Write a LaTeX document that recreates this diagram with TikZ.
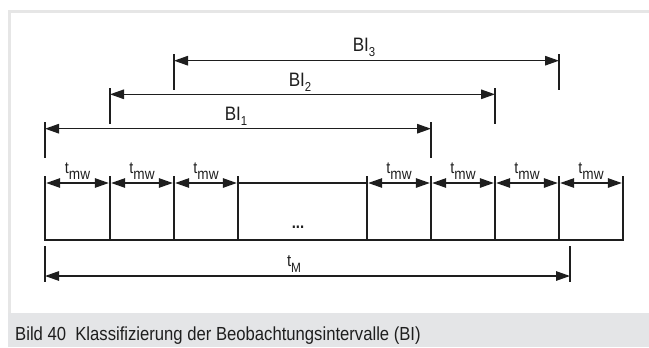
\documentclass[tikz,border=0pt]{standalone}
\usepackage{fontspec}
\setmainfont{Liberation Sans}[FakeStretch=0.88]
\usetikzlibrary{arrows.meta}
\definecolor{framegray}{HTML}{E6E6E6}
\definecolor{capgray}{HTML}{E4E5E7}
\definecolor{ink}{HTML}{1E1E1E}
\newcommand{\subl}[5]{{\fontsize{#3}{#3}\selectfont #1}\raisebox{-#5bp}{\fontsize{#4}{#4}\selectfont #2}}
\begin{document}
\begin{tikzpicture}[x=1bp,y=-1bp,
  tip/.tip={Triangle[length=14bp,width=9.5bp]},
  dimline/.style={draw=ink, line width=1.3bp, tip-tip},
  extline/.style={draw=ink, line width=1.1bp},
  cellline/.style={draw=ink, line width=2.5bp},
  thinline/.style={draw=ink, line width=1.3bp},
  lbl/.style={inner sep=0pt, anchor=base, text=ink}]
\useasboundingbox (0,0) rectangle (649,347);
% frame and caption band
\fill[capgray] (8,313.3) rectangle (649,347);
\fill[framegray] (8,10) rectangle (649,12.5);
\fill[framegray] (8,10) rectangle (10.5,313.3);
\node[inner sep=0pt, anchor=base west, text=ink] (cap) at (15,340.7)
  {\fontsize{19}{19}\selectfont Bild 40\ \ Klassifizierung der Beobachtungsintervalle (BI)};
% cell coordinates
\foreach \i/\x in {0/45,1/110,2/174,3/238,4/367,5/431,6/495,7/559,8/623}{
  \coordinate (t\i) at (\x,176);
  \coordinate (b\i) at (\x,240);
  \coordinate (a\i) at (\x,183);
}
% cell lines
\foreach \i in {0,...,8}{ \draw[cellline] (t\i) -- (b\i); }
\draw[cellline, line cap=rect] (b0) -- (b8);
% tmw arrows
\foreach \i/\j in {0/1,1/2,2/3,4/5,5/6,6/7,7/8}{
  \draw[dimline] ([xshift=1.2bp]a\i) -- ([xshift=-1.2bp]a\j);
  \path (a\i) -- (a\j) node[midway, lbl, yshift=10bp] (tmw\i) {\subl{t}{mw}{16.5}{15.5}{6.5}};
}
\draw[thinline] (a3) -- (a4);
\node[lbl] (dots) at (298,228) {\fontsize{17}{17}\selectfont\bfseries ...};
% BI1
\coordinate (p1l) at (45,128.7); \coordinate (p1r) at (431,128.7);
\draw[extline] (45,122) coordinate (e1lt) -- (45,158) coordinate (e1lb);
\draw[extline] (431,122) coordinate (e1rt) -- (431,158) coordinate (e1rb);
\draw[dimline] (p1l) -- (p1r);
\node[lbl] (bi1) at (236,120) {\subl{BI}{1}{19.5}{13}{5}};
% BI2
\coordinate (p2l) at (110,94.3); \coordinate (p2r) at (495,94.3);
\draw[extline] (110,88) coordinate (e2lt) -- (110,124) coordinate (e2lb);
\draw[extline] (495,88) coordinate (e2rt) -- (495,124) coordinate (e2rb);
\draw[dimline] (p2l) -- (p2r);
\node[lbl] (bi2) at (300,86.7) {\subl{BI}{2}{19.5}{13}{5}};
% BI3
\coordinate (p3l) at (174,60.7); \coordinate (p3r) at (559,60.7);
\draw[extline] (174,54) coordinate (e3lt) -- (174,90) coordinate (e3lb);
\draw[extline] (559,54) coordinate (e3rt) -- (559,90) coordinate (e3rb);
\draw[dimline] (p3l) -- (p3r);
\node[lbl] (bi3) at (364,51.7) {\subl{BI}{3}{19.5}{13}{5}};
% tM
\coordinate (pml) at (45,276); \coordinate (pmr) at (570,276);
\draw[extline] (45,246) coordinate (emlt) -- (45,282) coordinate (emlb);
\draw[extline] (570,246) coordinate (emrt) -- (570,282) coordinate (emrb);
\draw[dimline] (pml) -- (pmr);
\node[lbl] (tm) at (294,266) {\subl{t}{M}{17}{13.5}{6}};
\end{tikzpicture}
\end{document}
